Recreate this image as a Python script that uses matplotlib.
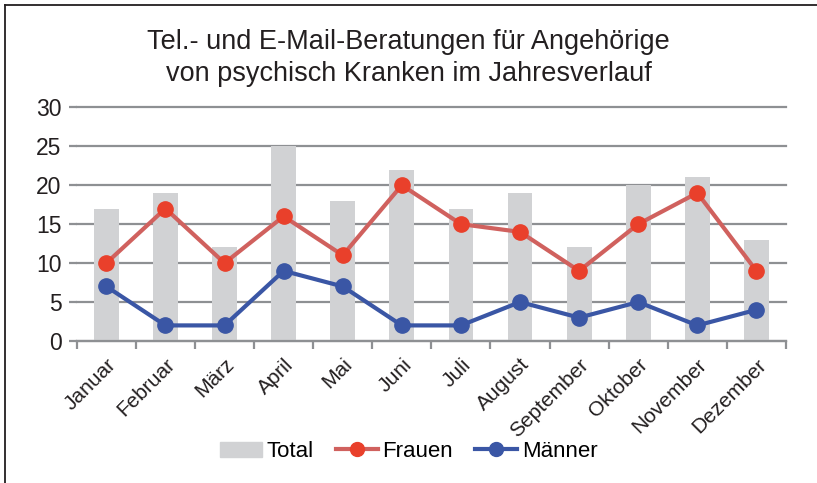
import matplotlib.pyplot as plt
import numpy as np
from matplotlib.lines import Line2D
from matplotlib.patches import Patch

months = ["Januar", "Februar", "März", "April", "Mai", "Juni", "Juli",
          "August", "September", "Oktober", "November", "Dezember"]
total = [17, 19, 12, 25, 18, 22, 17, 19, 12, 20, 21, 13]
frauen = [10, 17, 10, 16, 11, 20, 15, 14, 9, 15, 19, 9]
maenner = [7, 2, 2, 9, 7, 2, 2, 5, 3, 5, 2, 4]

plt.rcParams['font.family'] = ['Liberation Sans', 'DejaVu Sans']

grid_col = "#8e9093"
bar_col = "#d1d2d4"
fr_line = "#d0615e"
fr_mark = "#e9402b"
ma_col = "#3a56a5"
txt_col = "#231f20"

fig = plt.figure(figsize=(8.17, 4.83), dpi=100)
ax = fig.add_axes([0.094, 0.294, 0.868, 0.484])

x = np.arange(len(months))
ax.bar(x, total, width=0.42, color=bar_col, zorder=1)
ax.plot(x, frauen, color=fr_line, lw=3, marker="o", ms=11,
        mfc=fr_mark, mec=fr_mark, zorder=3)
ax.plot(x, maenner, color=ma_col, lw=3, marker="o", ms=11,
        mfc=ma_col, mec=ma_col, zorder=3)

ax.set_xlim(-0.5, len(months) - 0.5)
ax.set_ylim(0, 30)
ax.set_yticks(range(0, 31, 5))
ax.yaxis.grid(True, color=grid_col, lw=1.6, zorder=0)
for gl in ax.get_ygridlines():
    gl.set_clip_on(False)
ax.set_axisbelow(True)

# ticks between categories
ax.set_xticks(np.arange(-0.5, len(months)), minor=False)
ax.set_xticklabels([])
ax.set_xticks(x, minor=True)
ax.set_xticklabels(months, minor=True, rotation=45, ha="right",
                   rotation_mode="anchor", fontsize=15, color=txt_col)
ax.tick_params(axis="x", which="minor", length=0, pad=10)
ax.tick_params(axis="x", which="major", length=6, width=1.6, color=grid_col)
ax.tick_params(axis="y", length=6, width=1.6, color=grid_col,
               labelsize=16.5, labelcolor=txt_col, pad=5)

for s in ["top", "right", "left"]:
    ax.spines[s].set_visible(False)
ax.spines["bottom"].set_color(grid_col)
ax.spines["bottom"].set_linewidth(1.6)

fig.text(0.5, 0.94, "Tel.- und E-Mail-Beratungen für Angehörige\nvon psychisch Kranken im Jahresverlauf",
         ha="center", va="top", fontsize=19.5, color=txt_col, linespacing=1.3)

handles = [
    Patch(color=bar_col),
    Line2D([], [], color=fr_line, lw=3, marker="o", ms=10, mfc=fr_mark, mec=fr_mark),
    Line2D([], [], color=ma_col, lw=3, marker="o", ms=10, mfc=ma_col, mec=ma_col),
]
fig.legend(handles, ["Total", "Frauen", "Männer"], loc="center",
           bbox_to_anchor=(0.5, 0.065), ncol=3, frameon=False, fontsize=16,
           handlelength=1.9, columnspacing=1.0, handletextpad=0.2)

# outer frame (left and top)
fig.add_artist(Line2D([0.006, 0.006], [0, 0.99], color=txt_col, lw=1.3,
                      transform=fig.transFigure))
fig.add_artist(Line2D([0.006, 1], [0.99, 0.99], color=txt_col, lw=1.3,
                      transform=fig.transFigure))

fig.savefig("out.png", dpi=100)
